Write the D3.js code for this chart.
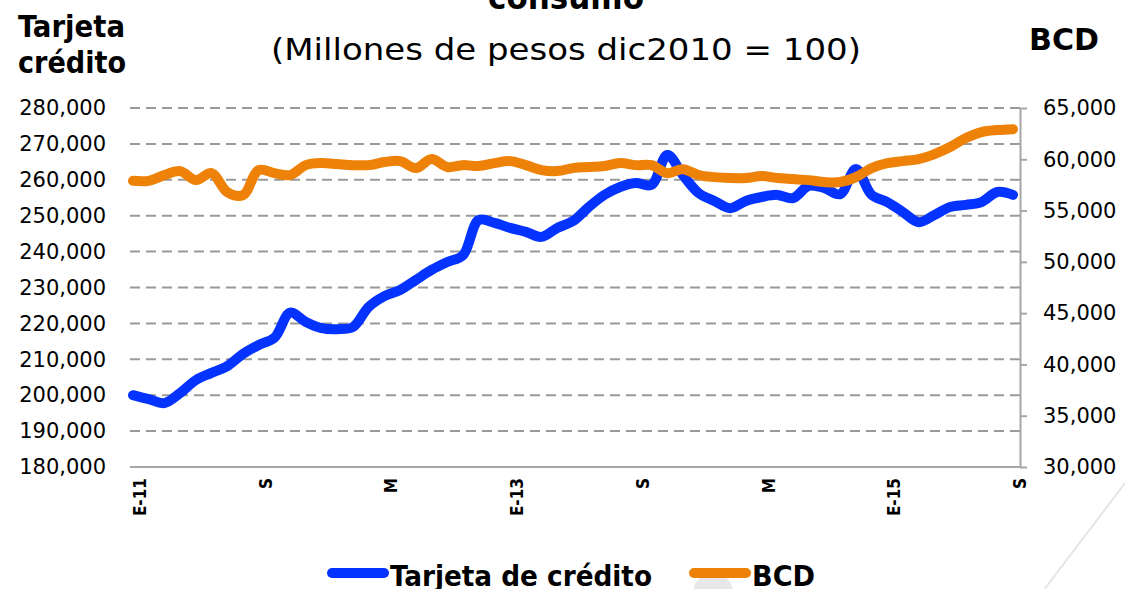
<!DOCTYPE html>
<html>
<head>
<meta charset="utf-8">
<script src="https://cdn.jsdelivr.net/npm/d3@7"></script>
<style>
  html, body { margin: 0; padding: 0; background: #fff; }
  svg { display: block; }
</style>
</head>
<body>
<div class="container"></div>
<script>
const WIDTH = 1125
const HEIGHT = 589

// months (Spanish), Jan 2011 .. Sep 2015
const mesAbr = ['Ene', 'Feb', 'Mar', 'Abr', 'May', 'Jun', 'Jul', 'Ago', 'Sep', 'Oct', 'Nov', 'Dic']
const meses = d3.range(57).map(i => `${mesAbr[i % 12]}-${11 + Math.floor(i / 12)}`)
const tickMeses = ['Ene-11', 'Sep-11', 'May-12', 'Ene-13', 'Sep-13', 'May-14', 'Ene-15', 'Sep-15']
const tickLabels = ['E-11', 'S', 'M', 'E-13', 'S', 'M', 'E-15', 'S']

// Tarjeta de crédito (left axis)
const tarjeta = [
  200000, 198900, 197800, 200600, 204200, 206200, 208100, 211500, 214000, 216000,
  223000, 220400, 218700, 218400, 219000, 224600, 227600, 229300, 232100, 234900,
  237100, 239000, 248800, 248000, 246600, 245500, 244100, 246600, 248500, 252400,
  255800, 258000, 259100, 258600, 266900, 261300, 256300, 254100, 252100, 254100,
  255200, 255800, 254900, 258300, 257700, 256000, 263000, 255800, 253800, 251000,
  248200, 250200, 252400, 253000, 253800, 256600, 255800
]

// BCD (right axis)
const bcd = [
  57900, 57900, 58460, 58850, 57970, 58650, 56800, 56500, 58950, 58650,
  58460, 59430, 59630, 59530, 59430, 59430, 59730, 59820, 59140, 60020,
  59240, 59430, 59340, 59630, 59820, 59430, 58950, 58850, 59140, 59240,
  59340, 59630, 59430, 59430, 58650, 59040, 58460, 58260, 58170, 58170,
  58360, 58170, 58070, 57970, 57780, 57780, 58260, 59140, 59630, 59820,
  60020, 60510, 61190, 62070, 62650, 62850, 62940
]

const leftTicks = d3.range(180000, 280001, 10000)
const rightTicks = d3.range(30000, 65001, 5000)

const plot = { left: 130, right: 1020, top: 108, bottom: 467 }

const svg = d3.select('.container').append('svg')
  .attr('width', WIDTH)
  .attr('height', HEIGHT)
  .attr('viewBox', `0 0 ${WIDTH} ${HEIGHT}`)

// slide decoration
svg.append('line')
  .attr('x1', 1135).attr('y1', 470).attr('x2', 1040).attr('y2', 595)
  .attr('stroke', '#e6e6e6').attr('stroke-width', 2)
svg.append('circle')
  .attr('cx', 713).attr('cy', 593).attr('r', 20)
  .attr('fill', '#e8e8e8')

const x = d3.scalePoint().domain(meses).range([133, 1013])
const yL = d3.scaleLinear().domain([180000, 280000]).range([plot.bottom, plot.top])
const yR = d3.scaleLinear().domain([30000, 65000]).range([plot.bottom, plot.top])
const fmt = d3.format(',')

// gridlines
svg.append('g')
  .selectAll('line')
  .data(leftTicks.slice(1))
  .join('line')
  .attr('x1', plot.left).attr('x2', plot.right)
  .attr('y1', d => yL(d)).attr('y2', d => yL(d))
  .attr('stroke', '#9a9a9a').attr('stroke-width', 2)
  .attr('stroke-dasharray', '10,6')

// left axis (labels only)
const axL = svg.append('g')
  .attr('transform', `translate(${plot.left},0)`)
  .call(d3.axisLeft(yL).tickValues(leftTicks).tickFormat(fmt).tickSize(0).tickPadding(24))
axL.select('.domain').remove()
axL.selectAll('text')
  .attr('font-family', 'DejaVu Sans, sans-serif')
  .attr('font-size', 21)
  .attr('fill', '#000')

// right axis
const axR = svg.append('g')
  .attr('transform', `translate(${plot.right},0)`)
  .call(d3.axisRight(yR).tickValues(rightTicks).tickFormat(fmt).tickSize(7).tickSizeOuter(0).tickPadding(16))
axR.select('.domain').attr('stroke', '#a6a6a6').attr('stroke-width', 2)
axR.selectAll('.tick line').attr('stroke', '#a6a6a6').attr('stroke-width', 2)
axR.selectAll('text')
  .attr('font-family', 'DejaVu Sans, sans-serif')
  .attr('font-size', 21)
  .attr('fill', '#000')

// bottom axis
const boldFont = 'Liberation Sans Narrow, DejaVu Sans Condensed, sans-serif'
const axB = svg.append('g')
  .attr('transform', `translate(0,${plot.bottom})`)
  .call(d3.axisBottom(x).tickValues(tickMeses).tickSize(0).tickFormat((d, i) => tickLabels[i]))
axB.select('.domain').remove()
svg.append('line')
  .attr('x1', plot.left).attr('x2', plot.right)
  .attr('y1', plot.bottom).attr('y2', plot.bottom)
  .attr('stroke', '#a6a6a6').attr('stroke-width', 2)
axB.selectAll('.tick').attr('transform', d => `translate(${x(d) + 7},0)`)
axB.selectAll('text')
  .attr('transform', 'rotate(-90)')
  .attr('text-anchor', 'end')
  .attr('x', -11).attr('y', 0).attr('dy', '0.35em')
  .attr('font-family', boldFont)
  .attr('font-weight', 'bold')
  .attr('font-size', 17)
  .attr('fill', '#000')

// lines
const lineL = d3.line().x((d, i) => x(meses[i])).y(d => yL(d)).curve(d3.curveCatmullRom.alpha(0.5))
const lineR = d3.line().x((d, i) => x(meses[i])).y(d => yR(d)).curve(d3.curveCatmullRom.alpha(0.5))

svg.append('path')
  .datum(tarjeta)
  .attr('d', lineL)
  .attr('fill', 'none').attr('stroke', '#0433ff').attr('stroke-width', 10)
  .attr('stroke-linejoin', 'round').attr('stroke-linecap', 'round')

svg.append('path')
  .datum(bcd)
  .attr('d', lineR)
  .attr('fill', 'none').attr('stroke', '#ee8208').attr('stroke-width', 10)
  .attr('stroke-linejoin', 'round').attr('stroke-linecap', 'round')

// titles
svg.append('text')
  .attr('x', 566).attr('y', 9)
  .attr('text-anchor', 'middle')
  .attr('font-family', boldFont).attr('font-weight', 'bold').attr('font-size', 34)
  .attr('textLength', 156).attr('lengthAdjust', 'spacingAndGlyphs')
  .text('consumo')

svg.append('text')
  .attr('x', 566).attr('y', 60)
  .attr('text-anchor', 'middle')
  .attr('font-family', 'DejaVu Sans, sans-serif').attr('font-size', 30)
  .attr('textLength', 590).attr('lengthAdjust', 'spacingAndGlyphs')
  .text('(Millones de pesos dic2010 = 100)')

svg.append('text')
  .attr('x', 18).attr('y', 37)
  .attr('font-family', boldFont).attr('font-weight', 'bold').attr('font-size', 31)
  .attr('textLength', 107).attr('lengthAdjust', 'spacingAndGlyphs')
  .text('Tarjeta')
svg.append('text')
  .attr('x', 18).attr('y', 73)
  .attr('font-family', boldFont).attr('font-weight', 'bold').attr('font-size', 31)
  .attr('textLength', 108).attr('lengthAdjust', 'spacingAndGlyphs')
  .text('crédito')
svg.append('text')
  .attr('x', 1029).attr('y', 50)
  .attr('font-family', boldFont).attr('font-weight', 'bold').attr('font-size', 31)
  .attr('textLength', 70).attr('lengthAdjust', 'spacingAndGlyphs')
  .text('BCD')

// legend
const legend = [
  { name: 'Tarjeta de crédito', color: '#0433ff', x: 332, w: 262 },
  { name: 'BCD', color: '#ee8208', x: 694, w: 63 }
]
const lg = svg.append('g').selectAll('g').data(legend).join('g')
  .attr('transform', d => `translate(${d.x},573)`)
lg.append('line')
  .attr('x1', 0).attr('x2', 52)
  .attr('stroke', d => d.color).attr('stroke-width', 10).attr('stroke-linecap', 'round')
lg.append('text')
  .attr('x', 58).attr('y', 13)
  .attr('font-family', boldFont).attr('font-weight', 'bold').attr('font-size', 29)
  .attr('textLength', d => d.w).attr('lengthAdjust', 'spacingAndGlyphs')
  .text(d => d.name)
</script>
</body>
</html>
